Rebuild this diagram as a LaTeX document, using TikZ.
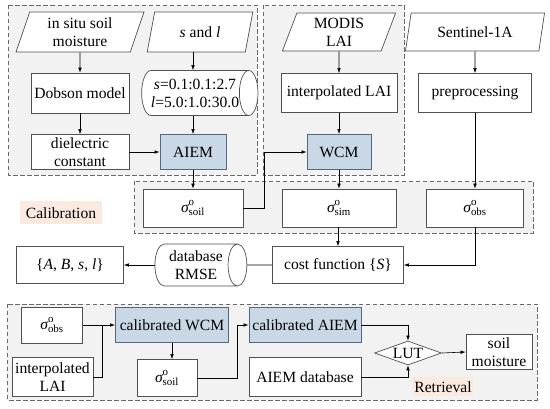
\documentclass[tikz,border=0pt]{standalone}
\usepackage{amsmath}
\usepackage{fontspec}
\setmainfont{Liberation Serif}
\usetikzlibrary{shapes.geometric,arrows.meta,calc}
\definecolor{regionF}{HTML}{F2F2F2}
\definecolor{dashG}{HTML}{6A6A6A}
\definecolor{boxG}{HTML}{505050}
\definecolor{blueF}{HTML}{C8D8E6}
\definecolor{blueD}{HTML}{55677A}
\definecolor{peachF}{HTML}{FBEADF}
\newcommand{\sig}[1]{{\itshape σ}\raisebox{1.5pt}{$^{\text{o}}_{\text{#1}}$}}
\begin{document}
\begin{tikzpicture}[x=1pt,y=1pt,
  every node/.style={font=\fontsize{15.6}{18}\selectfont, inner sep=0pt, align=center},
  region/.style={draw=dashG, dashed, dash pattern=on 4.5pt off 2.5pt, fill=regionF, line width=0.7pt},
  box/.style={draw=boxG, fill=white, line width=0.7pt},
  bluebox/.style={draw=blueD, fill=blueF, line width=0.9pt},
  para/.style={trapezium, trapezium left angle=73, trapezium right angle=107, trapezium stretches=true, draw=boxG, fill=white, line width=0.7pt},
  cyl/.style={cylinder, shape border rotate=0, aspect=0.65, draw=boxG, fill=white, line width=0.7pt},
  lab/.style={fill=peachF},
  arr/.style={-{Latex[length=5pt,width=3.6pt]}, line width=0.6pt},
  ln/.style={line width=0.6pt}]
\useasboundingbox (0,0) rectangle (550,-409);
% regions
\draw[region] (8,-5) rectangle (257,-175);
\draw[region] (263,-5) rectangle (404,-175);
\draw[region] (134,-181) rectangle (533,-233);
\draw[region] (7,-304) rectangle (537,-400);
% top-left
\node[para, minimum width=129, minimum height=40] (insitu) at (80,-32) {in situ soil\\moisture};
\node[para, minimum width=106, minimum height=40] (sl) at (200,-32) {\textit{s} and \textit{l}};
\node[box, minimum width=98, minimum height=40] (dobson) at (80,-93) {Dobson model};
\node[cyl, minimum height=116, minimum width=45] (range) at (195,-93) {\textit{s}=0.1:0.1:2.7\\\textit{l}=5.0:1.0:30.0};
\node[box, minimum width=98, minimum height=35] (diel) at (80,-152) {dielectric\\constant};
\node[bluebox, minimum width=66, minimum height=35] (aiem) at (193,-152) {AIEM};
% top-middle
\node[para, minimum width=114, minimum height=38] (modis) at (339,-32) {MODIS\\LAI};
\node[box, minimum width=116, minimum height=39] (ilai) at (339,-93) {interpolated LAI};
\node[bluebox, minimum width=64, minimum height=35] (wcm) at (339,-152) {WCM};
% top-right
\node[para, minimum width=140, minimum height=38] (sentinel) at (475,-32) {Sentinel-1A};
\node[box, minimum width=113, minimum height=39] (prep) at (475,-93) {preprocessing};
% calibration row
\node[box, minimum width=100, minimum height=38] (ssoil) at (193,-208) {\sig{soil}};
\node[box, minimum width=114, minimum height=38] (ssim) at (339,-208) {\sig{sim}};
\node[box, minimum width=97, minimum height=38] (sobs) at (475,-208) {\sig{obs}};
\node[lab, minimum width=82, minimum height=23] (calib) at (61,-213) {Calibration};
% cost row
\node[box, minimum width=131, minimum height=37] (cost) at (338,-265) {cost function \{\textit{S}\}};
\node[cyl, minimum height=92, minimum width=42] (db) at (196,-265) {database\\RMSE};
\node[box, minimum width=107, minimum height=37] (abs) at (70,-265) {\{\textit{A}, \textit{B}, \textit{s}, \textit{l}\}};
% retrieval
\node[box, minimum width=61, minimum height=36] (bobs) at (52,-325) {\sig{obs}};
\node[box, minimum width=81, minimum height=39] (blai) at (52.5,-377) {interpolated\\LAI};
\node[bluebox, minimum width=113, minimum height=35] (cwcm) at (172,-325) {calibrated WCM};
\node[box, minimum width=60, minimum height=37] (bsoil) at (167,-378) {\sig{soil}};
\node[bluebox, minimum width=112, minimum height=35] (caiem) at (305,-325) {calibrated AIEM};
\node[box, minimum width=112, minimum height=39] (adb) at (305,-377) {AIEM database};
\node[diamond, aspect=2.8, draw=boxG, fill=white, line width=0.7pt, minimum width=67, minimum height=24] (lut) at (408,-353) {LUT};
\node[box, minimum width=66, minimum height=35] (smoist) at (499,-352) {soil\\moisture};
\node[lab, minimum width=60, minimum height=19] (retr) at (443,-387) {Retrieval};
% connectors top
\draw[arr] (insitu.south) -- (dobson.north);
\draw[arr] (dobson.south) -- (diel.north);
\draw[arr] (sl.south -| aiem.north) -- (range.north -| aiem.north);
\draw[arr] (range.south -| aiem.north) -- (aiem.north);
\draw[arr] (diel.east) -- (aiem.west);
\draw[arr] (aiem.south) -- (ssoil.north);
\draw[arr] (ssoil.east) -- ++(21,0) |- (wcm.west);
\draw[arr] (modis.south) -- (ilai.north);
\draw[arr] (ilai.south) -- (wcm.north);
\draw[arr] (wcm.south) -- (ssim.north);
\draw[arr] (sentinel.south) -- (prep.north);
\draw[arr] (prep.south) -- (sobs.north);
\draw[arr] (ssim.south -| cost.north) -- (cost.north);
\draw[arr] (sobs.south) |- (cost.east);
\draw[ln] (cost.west) -- (db.east);
\draw[arr] (db.west) -- (abs.east);
% connectors bottom
\coordinate (j1) at (102,-325);
\draw[ln] (blai.east) -| (j1);
\draw[arr] (bobs.east) -- (cwcm.west);
\draw[arr] (cwcm.south) -- (cwcm.south |- bsoil.north);
\draw[arr] (bsoil.east) -- ++(40,0) |- (caiem.west);
\draw[arr] (caiem.east) -| (lut.north);
\draw[arr] (adb.east) -| (lut.south);
\draw[arr] (lut.east) -- (smoist.west);
\end{tikzpicture}
\end{document}
